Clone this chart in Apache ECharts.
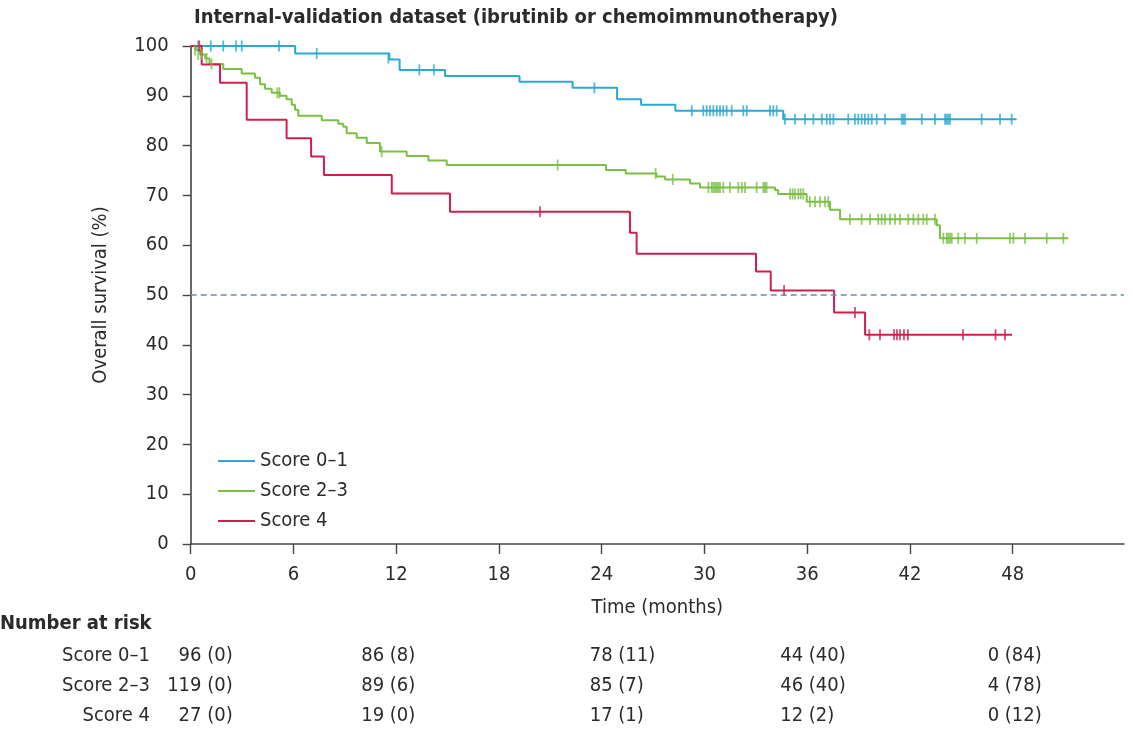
<!DOCTYPE html>
<html><head><meta charset="utf-8">
<script src="https://cdn.jsdelivr.net/npm/echarts@6/dist/echarts.min.js"></script>
<style>html,body{margin:0;padding:0;background:#fff}#c{width:1133px;height:729px}</style>
</head><body><div id="c"></div>
<script>
// ---------- data ----------
const seriesNames = ['Score 0–1', 'Score 2–3', 'Score 4'];
const xTickValues = [0, 6, 12, 18, 24, 30, 36, 42, 48];

// Kaplan–Meier steps [month, survival %]
const steps01 = [[0,100],[6.1,98.5],[11.6,97.3],[12.2,95.2],[14.85,94.0],[19.2,92.8],[22.3,91.6],[24.9,89.3],[26.3,88.2],[28.3,87.0],[34.6,85.3],[48.23,85.3]];
const steps23 = [[0,100],[0.3,99.2],[0.55,98.3],[0.85,97.5],[1.1,96.4],[1.9,95.4],[2.98,94.5],[3.75,93.6],[4.05,92.3],[4.34,91.4],[4.73,90.6],[5.21,90.0],[5.6,89.3],[5.9,88.2],[6.09,87.2],[6.28,86.0],[7.65,85.1],[8.62,84.4],[8.91,83.8],[9.11,82.5],[9.69,81.6],[10.28,80.5],[11.05,78.8],[12.61,77.9],[13.88,77.0],[14.95,76.1],[24.25,75.1],[25.4,74.4],[27.2,73.8],[27.7,73.2],[29.16,72.4],[29.74,71.6],[34.12,71.1],[34.3,70.3],[35.97,68.7],[37.33,67.1],[37.92,65.2],[43.56,64.0],[43.75,61.4],[51.25,61.4]];
const steps4 = [[0,100],[0.64,96.3],[1.71,92.6],[3.27,85.2],[5.6,81.5],[7.03,77.8],[7.78,74.1],[11.74,70.4],[15.14,66.7],[25.65,62.5],[26.04,58.3],[33.01,54.7],[33.87,50.9],[37.57,46.5],[39.38,42.0],[47.96,42.0]];

// censored observations [month, survival %]
const cens01 = [[0.44,100],[1.17,100],[1.9,100],[2.65,100],[2.98,100],[5.16,100],[7.36,98.5],[11.54,97.6],[13.35,95.2],[14.2,95.2],[23.57,91.6],
  [29.26,87],[29.93,87],[30.13,87],[30.32,87],[30.52,87],[30.72,87],[30.91,87],[31.1,87],[31.3,87],[31.59,87],[32.27,87],[32.47,87],[33.83,87],[34.02,87],[34.22,87],
  [34.7,85.3],[35.29,85.3],[35.87,85.3],[36.36,85.3],[36.85,85.3],[37.14,85.3],[37.33,85.3],[37.53,85.3],[38.4,85.3],[38.79,85.3],[38.98,85.3],[39.18,85.3],[39.37,85.3],[39.57,85.3],[39.77,85.3],[40.06,85.3],[40.54,85.3],[41.52,85.3],[41.61,85.3],[41.71,85.3],[42.69,85.3],[43.46,85.3],[44.05,85.3],[44.15,85.3],[44.24,85.3],[44.34,85.3],[46.19,85.3],[47.26,85.3],[47.94,85.3]];
const cens23 = [[0.25,99.2],[0.44,98.3],[0.64,98.3],[0.93,97.5],[1.22,96.4],[5.06,90.6],[5.18,90.6],[11.15,78.8],[21.43,76.1],[27.15,74.4],[28.15,73.2],
  [30.23,71.6],[30.42,71.6],[30.52,71.6],[30.62,71.6],[30.72,71.6],[30.81,71.6],[30.91,71.6],[31.1,71.6],[31.49,71.6],[31.98,71.6],[32.18,71.6],[32.37,71.6],[33.05,71.6],[33.44,71.6],[33.53,71.6],[33.63,71.6],
  [35.0,70.3],[35.15,70.3],[35.29,70.3],[35.48,70.3],[35.62,70.3],[35.77,70.3],
  [36.16,68.7],[36.46,68.7],[36.75,68.7],[37.04,68.7],[37.23,68.7],
  [38.5,65.2],[39.18,65.2],[39.67,65.2],[40.15,65.2],[40.35,65.2],[40.54,65.2],[40.83,65.2],[41.13,65.2],[41.42,65.2],[41.9,65.2],[42.2,65.2],[42.49,65.2],[42.78,65.2],[42.98,65.2],[43.46,65.2],
  [43.95,61.4],[44.15,61.4],[44.24,61.4],[44.34,61.4],[44.44,61.4],[44.82,61.4],[45.21,61.4],[45.9,61.4],[47.84,61.4],[48.04,61.4],[48.72,61.4],[49.99,61.4],[50.96,61.4]];
const cens4 = [[0.5,100],[20.4,66.7],[34.65,50.9],[38.79,46.5],[39.63,42.0],[40.25,42.0],[41.07,42.0],[41.24,42.0],[41.42,42.0],[41.65,42.0],[41.88,42.0],[45.1,42.0],[47.0,42.0],[47.55,42.0]];

// number at risk table
const riskTimes = [0, 12, 24, 36, 48];
const riskN01 = [96, 86, 78, 44, 0],  riskC01 = [0, 8, 11, 40, 84];
const riskN23 = [119, 89, 85, 46, 4], riskC23 = [0, 6, 7, 40, 78];
const riskN4  = [27, 19, 17, 12, 0],  riskC4  = [0, 0, 1, 2, 12];

// ---------- chart ----------
const colors = ['#29a9d3', '#7bbf45', '#cf1f4d'];
const FONT = '"Liberation Sans Narrow","DejaVu Sans Condensed","Liberation Sans",sans-serif';
const TXT = '#2b2b2b';
const chart = echarts.init(document.getElementById('c'), null, {renderer: 'canvas'});

function stepSeries(name, data, color, extra) {
  return Object.assign({
    name, type: 'line', step: 'end', data, symbol: 'none', showSymbol: false,
    lineStyle: {color, width: 2}, itemStyle: {color}, z: 3, animation: false
  }, extra || {});
}
function censSeries(name, data, color) {
  return {name, type: 'scatter', data, symbol: 'rect', symbolSize: [1.8, 11],
    itemStyle: {color}, z: 4, animation: false, silent: true};
}

chart.setOption({
  animation: false,
  textStyle: {fontFamily: FONT},
  title: {text: 'Internal-validation dataset (ibrutinib or chemoimmunotherapy)', left: 189, top: 3,
    textStyle: {fontFamily: FONT, fontSize: 20, fontWeight: 'bold', color: TXT}},
  grid: {left: 190.7, right: 9, top: 46, bottom: 185, containLabel: false},
  legend: {
    data: seriesNames, orient: 'vertical', left: 213, top: 446,
    itemWidth: 37, itemHeight: 16, itemGap: 10, icon: 'path://M0,7 L37,7 L37,9 L0,9 Z',
    textStyle: {fontFamily: FONT, fontSize: 20, color: TXT, lineHeight: 20}
  },
  xAxis: {
    type: 'value', min: 0, max: 54.5, interval: 6,
    name: 'Time (months)', nameLocation: 'middle', nameGap: 54,
    nameTextStyle: {fontFamily: FONT, fontSize: 20, color: TXT},
    axisLine: {show: true, lineStyle: {color: '#444', width: 1.6}},
    axisTick: {show: true, length: 10, lineStyle: {color: '#444', width: 1.4}, customValues: xTickValues},
    axisLabel: {fontFamily: FONT, fontSize: 20, color: TXT, margin: 21, customValues: xTickValues},
    splitLine: {show: false}
  },
  yAxis: {
    type: 'value', min: 0, max: 100, interval: 10,
    name: 'Overall survival (%)', nameLocation: 'middle', nameGap: 80,
    nameTextStyle: {fontFamily: FONT, fontSize: 20, color: TXT},
    axisLine: {show: true, lineStyle: {color: '#444', width: 1.6}},
    axisTick: {show: true, length: 8, lineStyle: {color: '#444', width: 1.4}},
    axisLabel: {fontFamily: FONT, fontSize: 20, color: TXT, margin: 22},
    splitLine: {show: false}
  },
  series: [
    stepSeries(seriesNames[0], steps01, colors[0], {
      markLine: {silent: true, symbol: ['none', 'none'], label: {show: false},
        lineStyle: {type: [6, 4], color: '#6a8f9b', width: 1.5}, data: [{yAxis: 50}], animation: false}
    }),
    stepSeries(seriesNames[1], steps23, colors[1]),
    stepSeries(seriesNames[2], steps4, colors[2]),
    censSeries('c01', cens01, colors[0]),
    censSeries('c23', cens23, colors[1]),
    censSeries('c4', cens4, colors[2])
  ]
});

// ---------- number at risk table (positioned from the x scale) ----------
const colOffset = [42, -35, -12, -27, -25];      // layout offsets from each tick
const colAlign  = ['right', 'left', 'left', 'left', 'left'];
const rowY = [656, 686, 716];
const rows = [[riskN01, riskC01], [riskN23, riskC23], [riskN4, riskC4]];
const g = [];
g.push({type: 'text', left: 0, top: 614, style: {text: 'Number at risk', font: 'bold 20px ' + FONT, fill: TXT}});
rows.forEach((r, i) => {
  g.push({type: 'text', x: 150, y: rowY[i], style: {text: seriesNames[i], font: '20px ' + FONT, fill: TXT, textAlign: 'right', textVerticalAlign: 'middle'}});
  riskTimes.forEach((t, j) => {
    const px = chart.convertToPixel({xAxisIndex: 0}, t);
    g.push({type: 'text', x: px + colOffset[j], y: rowY[i],
      style: {text: r[0][j] + ' (' + r[1][j] + ')', font: '20px ' + FONT, fill: TXT, textAlign: colAlign[j], textVerticalAlign: 'middle'}});
  });
});
chart.setOption({graphic: g});
</script>
</body></html>
